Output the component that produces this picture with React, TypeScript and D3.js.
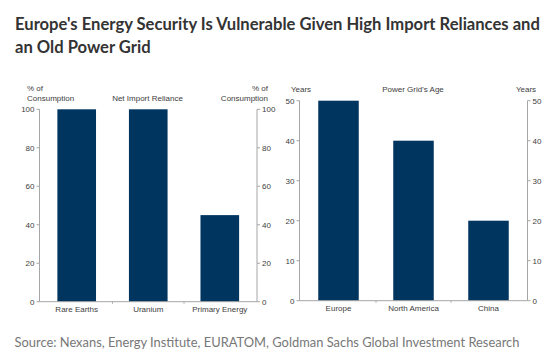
import React from "react";
import * as d3 from "d3";

const titleLines = [
  "Europe's Energy Security Is Vulnerable Given High Import Reliances and",
  "an Old Power Grid",
];
const sourceText = "Source: Nexans, Energy Institute, EURATOM, Goldman Sachs Global Investment Research";

const importCategories = ["Rare Earths", "Uranium", "Primary Energy"];
const importValues = [100, 100, 45];
const importTicks = [0, 20, 40, 60, 80, 100];

const gridCategories = ["Europe", "North America", "China"];
const gridValues = [50, 40, 20];
const gridTicks = [0, 10, 20, 30, 40, 50];

const BAR = "#00355f";
const AXIS = "#a6a6a6";
const TXT = "#404040";
const AF = "'Liberation Sans', Arial, sans-serif";

type PanelProps = {
  x0: number;
  x1: number;
  yBottom: number;
  yTop: number;
  max: number;
  cats: string[];
  vals: number[];
  ticks: number[];
};

function Panel({ x0, x1, yBottom, yTop, max, cats, vals, ticks }: PanelProps) {
  const x = d3.scaleBand<string>().domain(cats).range([x0, x1]).paddingInner(0.46).paddingOuter(0.25);
  const y = d3.scaleLinear().domain([0, max]).range([yBottom, yTop]);
  const step = x.step();
  const boundaries = cats.slice(1).map((c) => (x(c) as number) - (step * x.paddingInner()) / 2);
  return (
    <g>
      {cats.map((c, i) => (
        <rect key={c} x={x(c)} y={y(vals[i])} width={x.bandwidth()} height={y(0) - y(vals[i])} fill={BAR} />
      ))}
      <line x1={x0} x2={x0} y1={y(0)} y2={y(max)} stroke={AXIS} strokeWidth={1} />
      <line x1={x1} x2={x1} y1={y(0)} y2={y(max)} stroke={AXIS} strokeWidth={1} />
      <line x1={x0} x2={x1} y1={y(0)} y2={y(0)} stroke={AXIS} strokeWidth={1} />
      {boundaries.map((b, i) => (
        <line key={i} x1={b} x2={b} y1={y(0)} y2={y(0) + 2} stroke={AXIS} />
      ))}
      {ticks.map((t) => (
        <g key={t}>
          <line x1={x0 - 3} x2={x0} y1={y(t)} y2={y(t)} stroke={AXIS} />
          <text x={x0 - 5} y={y(t)} dy="0.35em" textAnchor="end" fontSize={8} fontFamily={AF} fill={TXT}>
            {t}
          </text>
          <line x1={x1} x2={x1 + 3} y1={y(t)} y2={y(t)} stroke={AXIS} />
          <text x={x1 + 5} y={y(t)} dy="0.35em" textAnchor="start" fontSize={8} fontFamily={AF} fill={TXT}>
            {t}
          </text>
        </g>
      ))}
      {cats.map((c) => (
        <text
          key={c}
          x={(x(c) as number) + x.bandwidth() / 2}
          y={y(0) + 10.5}
          textAnchor="middle"
          fontSize={8}
          fontFamily={AF}
          fill={TXT}
        >
          {c}
        </text>
      ))}
    </g>
  );
}

export default function App() {
  return (
    <div style={{ position: "fixed", left: 0, top: 0, width: 560, height: 362, background: "#fff" }}>
      <svg width={560} height={362} style={{ display: "block" }}>
        <rect width={560} height={362} fill="#fff" />
        {titleLines.map((l, i) => (
          <text
            key={i}
            x={15}
            y={29.5 + i * 23.5}
            fontFamily="Lato, sans-serif"
            fontWeight={700}
            fontSize={16.6}
            fill="#333"
          >
            {l}
          </text>
        ))}

        {/* left panel headers */}
        <text x={27} y={91} fontSize={8} fontFamily={AF} fill={TXT}>% of</text>
        <text x={27} y={101} fontSize={8} fontFamily={AF} fill={TXT}>Consumption</text>
        <text x={147.5} y={101} textAnchor="middle" fontSize={8} fontFamily={AF} fill={TXT}>Net Import Reliance</text>
        <text x={268} y={91} textAnchor="end" fontSize={8} fontFamily={AF} fill={TXT}>% of</text>
        <text x={268} y={101} textAnchor="end" fontSize={8} fontFamily={AF} fill={TXT}>Consumption</text>

        {/* right panel headers */}
        <text x={301} y={92} textAnchor="middle" fontSize={8} fontFamily={AF} fill={TXT}>Years</text>
        <text x={413} y={92} textAnchor="middle" fontSize={8} fontFamily={AF} fill={TXT}>Power Grid's Age</text>
        <text x={526} y={92} textAnchor="middle" fontSize={8} fontFamily={AF} fill={TXT}>Years</text>

        <Panel x0={39.5} x1={257} yBottom={301.7} yTop={109.3} max={100} cats={importCategories} vals={importValues} ticks={importTicks} />
        <Panel x0={299.5} x1={527.5} yBottom={300.7} yTop={100.7} max={50} cats={gridCategories} vals={gridValues} ticks={gridTicks} />

        <text x={14.5} y={346.5} fontFamily="Lato, sans-serif" fontSize={12.9} fill="#777">
          {sourceText}
        </text>
      </svg>
    </div>
  );
}
